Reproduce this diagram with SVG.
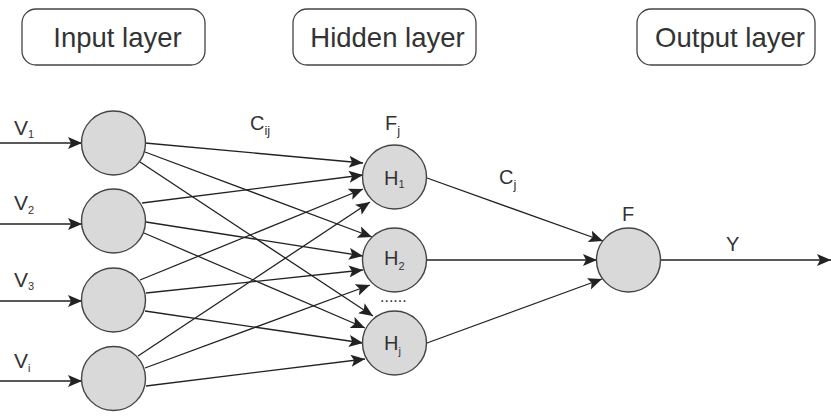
<svg xmlns="http://www.w3.org/2000/svg" width="831" height="420" viewBox="0 0 831 420">
<defs>
<marker id="arr" markerUnits="userSpaceOnUse" markerWidth="16" markerHeight="12" refX="14" refY="6" orient="auto">
<path d="M0,0 L14,6 L0,12 L3,6 z" fill="#222"/>
</marker>
<style>
.box{fill:#fff;stroke:#444;stroke-width:1.3}
.nd{fill:#d9d9d9;stroke:#444;stroke-width:1.4}
.t{font-family:"Liberation Sans",Arial,sans-serif;fill:#333}
.title{font-size:27.5px;text-anchor:middle}
.lbl{font-size:20px}
.vl{font-size:21px}
.sub{font-size:11px}
.ln{stroke:#222;stroke-width:1.3;fill:none;marker-end:url(#arr)}
</style>
</defs>
<rect width="831" height="420" fill="#fff"/>
<g id="title-input"><rect class="box" x="22" y="9" width="183" height="56" rx="14"/><text class="t title" x="117.5" y="47">Input layer</text></g>
<g id="title-hidden"><rect class="box" x="293" y="9" width="183" height="56" rx="14"/><text class="t title" x="387.5" y="47">Hidden layer</text></g>
<g id="title-output"><rect class="box" x="637" y="9" width="178" height="56" rx="14"/><text class="t title" x="730" y="47">Output layer</text></g>
<g id="connectors">
<line class="ln" x1="0" y1="143" x2="82" y2="143"/>
<line class="ln" x1="0" y1="224" x2="82" y2="224"/>
<line class="ln" x1="0" y1="301" x2="82" y2="301"/>
<line class="ln" x1="0" y1="381" x2="82" y2="381"/>
<line class="ln" x1="145" y1="143" x2="363" y2="163"/>
<line class="ln" x1="145" y1="152" x2="372" y2="237"/>
<line class="ln" x1="140" y1="162" x2="373" y2="316"/>
<line class="ln" x1="142" y1="203" x2="363" y2="175"/>
<line class="ln" x1="146" y1="222" x2="363" y2="256"/>
<line class="ln" x1="144" y1="233" x2="365" y2="328"/>
<line class="ln" x1="140" y1="280" x2="363" y2="189"/>
<line class="ln" x1="146" y1="293" x2="363" y2="270"/>
<line class="ln" x1="145" y1="311" x2="363" y2="343"/>
<line class="ln" x1="138" y1="356" x2="370" y2="202"/>
<line class="ln" x1="145" y1="368" x2="370" y2="285"/>
<line class="ln" x1="146" y1="386" x2="365" y2="359"/>
<line class="ln" x1="427" y1="178" x2="603" y2="241"/>
<line class="ln" x1="427" y1="260" x2="597" y2="260"/>
<line class="ln" x1="427" y1="343" x2="602" y2="279"/>
<line class="ln" x1="660" y1="260" x2="831" y2="260"/>
</g>
<g id="in1"><circle class="nd" cx="113.5" cy="143" r="32"/></g>
<g id="in2"><circle class="nd" cx="113.5" cy="221" r="32"/></g>
<g id="in3"><circle class="nd" cx="113.5" cy="300" r="32"/></g>
<g id="in4"><circle class="nd" cx="113.5" cy="378.5" r="32"/></g>
<g id="h1"><circle class="nd" cx="394.5" cy="177" r="32"/><text class="t lbl" x="384" y="185">H<tspan class="sub" dy="3">1</tspan></text></g>
<g id="h2"><circle class="nd" cx="394.5" cy="260" r="32"/><text class="t lbl" x="384" y="265">H<tspan class="sub" dy="5">2</tspan></text></g>
<g id="hj"><circle class="nd" cx="394.5" cy="343" r="32"/><text class="t lbl" x="384" y="350">H<tspan class="sub" font-size="13px" dy="5">j</tspan></text></g>
<g id="out"><circle class="nd" cx="628.5" cy="260" r="32"/></g>
<g id="labels">
<text class="t vl" x="14" y="135">V<tspan class="sub" dy="3">1</tspan></text>
<text class="t vl" x="14" y="210">V<tspan class="sub" dy="4">2</tspan></text>
<text class="t vl" x="14" y="287">V<tspan class="sub" dy="3">3</tspan></text>
<text class="t vl" x="14" y="368">V<tspan class="sub" font-size="13px" dy="4">i</tspan></text>
<text class="t lbl" x="250" y="130">C<tspan font-size="13px" dy="5">ij</tspan></text>
<text class="t lbl" x="385" y="130">F<tspan font-size="13px" dy="5">j</tspan></text>
<text class="t lbl" x="499" y="184">C<tspan font-size="13px" dy="5">j</tspan></text>
<text class="t lbl" x="622" y="221">F</text>
<text class="t lbl" x="726" y="251">Y</text>
<text class="t" font-size="16px" x="380" y="302">......</text>
</g>
</svg>
